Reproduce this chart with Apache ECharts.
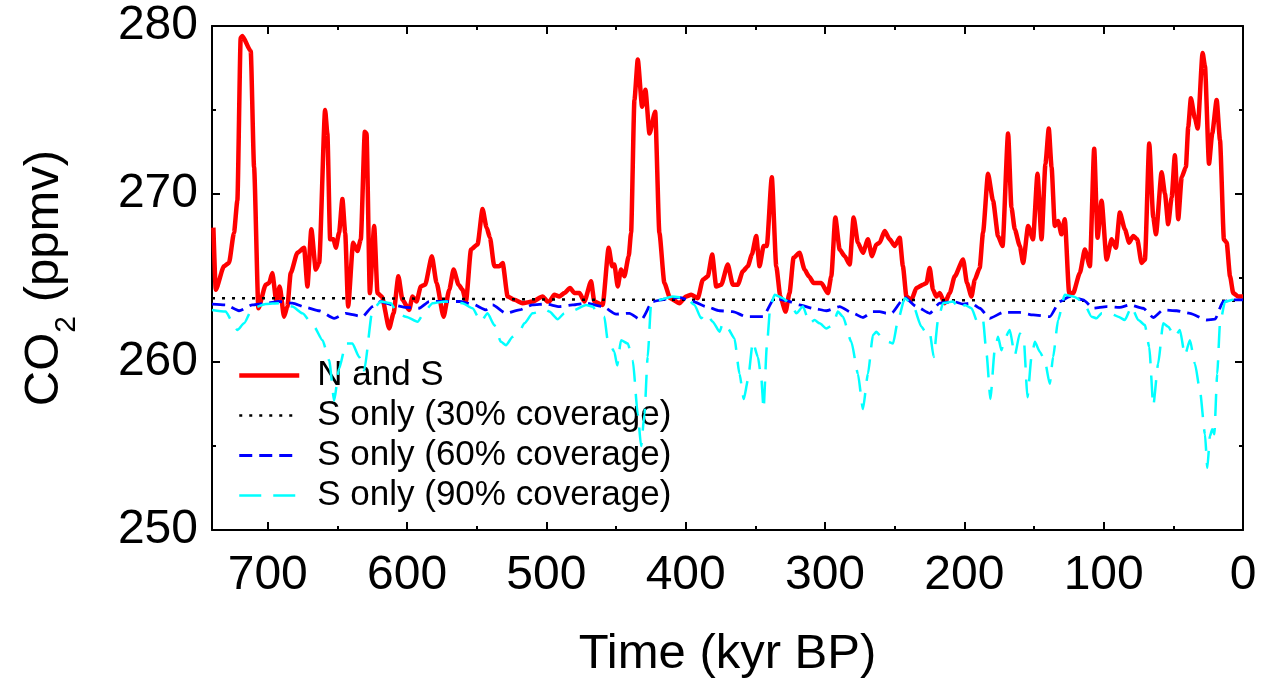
<!DOCTYPE html>
<html>
<head>
<meta charset="utf-8">
<script src="https://cdn.jsdelivr.net/npm/echarts@6/dist/echarts.min.js"></script>
<style>
html,body{margin:0;padding:0;background:#fff;}
#chart{width:1281px;height:682px;}
</style>
</head>
<body>
<div id="chart"></div>
<script>
// ---- data (time in kyr BP, CO2 in ppmv) ----
var seriesNames = ['N and S', 'S only (30% coverage)', 'S only (60% coverage)', 'S only (90% coverage)'];
var xMajorTicks = [0, 100, 200, 300, 400, 500, 600, 700];
var yMajorTicks = [250, 260, 270, 280];

var nsData = [
[739,268.0],[737.3,264.3],[731.4,265.7],[727.8,265.9],[724.2,267.7],[721.8,269.6],[719.4,279.3],[718.2,279.4],
[712.2,278.5],[709.8,271.6],[706.7,263.2],[701.4,264.6],[699.0,264.7],[696.7,265.3],[693.8,263.6],[691.4,264.5],
[688.3,262.7],[685.9,263.3],[683.5,265.3],[678.7,266.5],[673.9,266.8],[671.5,264.5],[668.7,267.9],[665.5,265.5],
[663.1,265.9],[658.8,275.0],[657.2,273.6],[655.2,267.3],[652.8,267.3],[651.1,266.8],[648.8,267.7],[646.4,269.7],
[644.4,267.7],[642.3,263.3],[638.7,267.1],[635.6,266.6],[633.2,267.3],[630.3,273.7],[629.1,273.6],[626.7,264.1],
[623.6,268.1],[621.2,264.1],[618.1,263.9],[612.8,262.0],[609.7,262.9],[606.2,265.1],[603.3,263.7],[598.5,263.1],
[596.1,263.9],[593.2,263.6],[590.1,264.5],[587.0,264.6],[582.2,266.3],[578.8,264.7],[573.8,262.7],[569.7,264.3],
[566.6,265.5],[563.0,264.6],[560.2,264.3],[557.7,263.6],[554.1,266.7],[549.4,267.0],[545.8,269.1],[542.9,268.0],
[540.5,267.4],[537.4,265.7],[533.8,265.7],[531.4,265.9],[527.8,263.9],[523.0,263.7],[517.1,263.5],[509.9,263.6],
[502.7,263.9],[499.1,263.6],[497.9,263.6],[494.3,264.0],[490.7,263.9],[487.1,264.1],[483.0,264.4],[479.9,264.1],
[476.3,264.1],[472.7,263.6],[467.9,264.8],[465.6,263.6],[459.6,263.4],[455.3,266.8],[452.8,265.7],[451.2,265.8],
[448.8,264.5],[446.4,265.5],[444.0,265.1],[440.9,266.3],[439.2,267.7],[436.8,275.6],[434.4,278.0],[431.3,275.2],
[428.9,276.2],[426.0,273.6],[421.9,274.9],[418.9,267.7],[415.3,264.7],[411.2,263.8],[404.5,263.5],[399.7,263.9],
[396.1,264.0],[391.3,263.8],[387.7,264.9],[384.1,265.1],[381.0,266.4],[378.1,264.5],[374.5,264.6],[369.8,265.8],
[366.2,264.6],[362.6,264.6],[359.0,265.4],[355.4,265.7],[352.5,266.4],[349.4,267.5],[347.0,265.7],[344.1,266.9],
[341.8,266.9],[338.2,271.0],[335.0,265.7],[332.1,263.9],[328.3,263.0],[325.5,264.1],[322.6,266.2],[318.3,266.5],
[314.7,265.5],[311.6,265.1],[308.2,264.7],[302.7,264.7],[297.9,264.1],[295.5,265.1],[292.6,268.6],[289.5,266.7],
[285.9,266.3],[282.3,265.8],[279.5,268.6],[276.4,267.1],[272.8,266.5],[269.2,267.3],[266.3,266.3],[263.2,267.0],
[260.8,267.1],[257.2,267.8],[253.6,267.3],[250.0,266.9],[246.4,267.4],[244.1,265.7],[241.6,263.9],[238.0,263.7],
[234.4,264.4],[229.7,264.6],[227.2,264.7],[224.9,265.6],[222.5,264.3],[220.1,263.9],[217.7,264.1],[214.1,263.5],
[210.5,264.1],[206.9,265.1],[200.9,266.1],[198.1,264.7],[194.9,263.9],[192.5,264.9],[189.0,265.6],[186.6,267.7],
[183.0,271.2],[179.4,269.6],[175.8,267.5],[172.6,266.9],[168.6,273.6],[166.2,269.2],[163.8,267.9],[160.2,266.9],
[157.8,265.9],[154.2,268.1],[150.7,267.3],[147.5,271.2],[144.6,267.3],[141.8,271.8],[139.4,273.9],[137.4,271.6],
[135.1,268.1],[132.7,268.4],[130.3,267.6],[127.9,268.5],[124.8,264.1],[121.9,264.1],[117.1,265.3],[113.5,266.7],
[109.9,265.7],[106.8,272.7],[104.4,267.4],[101.5,269.6],[97.9,266.1],[94.3,267.3],[91.2,266.8],[88.4,268.9],
[84.8,267.9],[81.7,267.1],[78.8,267.5],[75.9,267.3],[72.8,265.9],[70.4,266.1],[67.3,273.0],[64.4,268.6],
[62.5,267.6],[58.4,271.3],[56.0,270.0],[53.7,268.2],[51.2,269.8],[48.9,272.3],[46.5,268.5],[44.0,271.0],
[41.0,271.6],[39.3,274.0],[37.4,275.7],[34.5,274.5],[32.5,273.9],[29.0,278.4],[27.3,277.6],[24.4,271.8],
[22.1,273.6],[18.9,275.6],[16.5,273.2],[13.7,267.3],[11.7,267.1],[9.3,265.1],[7.0,264.1],[3.4,263.9],
[0.9,263.9],[0,263.9]
];

var s30Data = [
[740,263.8],[650,263.8],[550,263.75],[450,263.7],[350,263.7],[250,263.7],[150,263.65],[50,263.65],[0,263.65]
];

var s60Data = [
[740,263.45],[730.2,263.4],[720.6,263.05],[711.0,263.4],[701.4,263.5],[691.9,263.6],[682.3,263.5],[672.7,263.25],
[663.1,263.05],[652.3,262.6],[643.9,262.9],[632.0,262.7],[624.8,263.3],[618.8,263.6],[610.5,263.4],[600.8,263.25],
[591.3,263.2],[584.1,263.6],[574.5,263.6],[562.5,263.6],[553.0,263.45],[543.4,263.1],[538.6,263.4],[529.0,262.9],
[519.4,263.1],[509.9,263.4],[500.3,263.45],[490.7,263.3],[481.1,263.4],[471.5,263.5],[459.6,263.3],[450.0,262.85],
[440.4,262.9],[432.0,262.5],[423.7,263.6],[414.0,263.75],[404.5,263.85],[394.9,263.6],[385.3,263.3],[375.7,263.05],
[366.2,263.0],[356.6,262.7],[344.6,262.7],[336.2,263.8],[327.8,263.65],[318.3,263.4],[308.7,263.2],[299.1,263.05],
[289.5,263.3],[280.0,262.9],[272.8,262.65],[265.6,263.0],[260.8,263.0],[256.0,262.9],[252.4,262.9],[242.8,263.85],
[234.4,263.3],[224.9,262.9],[217.7,263.5],[208.1,263.6],[200.9,263.45],[194.9,263.5],[189.0,263.2],[181.8,262.6],
[172.2,262.95],[160.2,262.95],[150.7,262.8],[138.7,262.7],[131.5,263.6],[124.3,263.9],[114.7,263.7],[107.5,263.2],
[97.9,263.3],[88.4,263.25],[81.2,263.4],[71.6,263.2],[64.4,262.65],[57.3,263.1],[47.6,263.05],[38.1,262.9],
[26.1,262.5],[20.1,262.55],[14.2,263.6],[7.0,263.7],[2.2,263.7],[0,263.7]
];

var s90Data = [
[740,263.1],[730.2,263.0],[725.4,262.4],[721.8,261.9],[717.0,262.3],[711.0,263.2],[701.4,263.45],[691.9,263.5],
[682.3,263.3],[675.1,262.9],[666.7,262.1],[660.7,261.3],[655.9,260.1],[652.3,257.7],[648.8,259.6],[643.9,261.1],
[639.2,261.1],[634.4,260.3],[630.8,259.5],[624.8,263.1],[618.8,263.6],[611.6,263.5],[606.9,262.9],[600.8,262.7],
[592.5,262.4],[586.5,263.1],[581.7,263.5],[572.1,263.6],[560.2,263.5],[553.0,263.2],[547.0,262.4],[542.2,262.9],
[537.4,262.2],[532.6,261.2],[529.0,261.0],[524.2,261.5],[519.4,261.8],[515.8,262.3],[509.9,262.9],[500.3,263.1],
[497.9,263.0],[491.9,262.55],[487.1,262.9],[481.1,263.05],[471.5,263.4],[466.8,263.3],[463.2,262.9],[458.4,262.7],
[456.0,261.3],[453.5,260.9],[451.2,260.6],[449.2,259.8],[446.4,261.3],[441.6,261.1],[438.0,260.1],[434.4,256.9],
[432.0,255.0],[429.6,256.9],[427.3,260.3],[424.8,263.5],[418.9,263.7],[409.3,263.9],[399.7,263.8],[393.7,263.4],
[388.9,262.6],[385.3,262.9],[380.6,262.4],[375.7,261.8],[373.4,262.3],[369.8,262.0],[365.0,261.4],[361.4,259.3],
[358.3,257.8],[355.4,258.9],[351.8,261.2],[348.2,260.3],[345.8,259.1],[344.1,257.2],[341.8,260.9],[339.3,263.3],
[336.2,264.0],[330.3,263.8],[324.2,263.4],[320.6,262.9],[315.9,263.3],[311.1,262.3],[307.5,262.5],[303.9,262.3],
[299.1,262.0],[294.3,262.2],[290.8,263.0],[287.2,262.7],[281.1,261.2],[276.4,259.3],[272.8,257.2],[269.2,259.3],
[265.6,261.6],[263.2,261.8],[259.6,261.5],[254.8,261.2],[251.2,261.1],[247.6,262.5],[242.8,263.8],[236.9,263.4],
[230.8,262.1],[227.2,261.7],[224.9,261.8],[222.0,260.3],[218.9,262.5],[215.3,263.5],[208.1,263.6],[203.3,263.1],
[199.7,263.4],[194.9,263.2],[190.2,262.3],[186.6,262.5],[184.1,260.5],[181.3,257.8],[178.2,260.7],[175.8,261.5],
[173.4,260.7],[171.0,261.4],[167.4,261.9],[163.8,260.4],[160.2,261.7],[157.3,261.3],[154.7,257.9],[151.8,260.3],
[149.4,261.2],[145.8,260.6],[142.3,260.1],[138.7,258.7],[136.3,260.3],[132.7,262.5],[127.9,264.0],[121.9,263.9],
[114.7,263.6],[108.7,262.7],[105.1,262.6],[101.5,262.9],[95.6,262.9],[89.6,262.7],[84.8,262.5],[80.0,263.3],
[75.2,262.5],[70.4,262.2],[67.3,260.9],[64.4,257.4],[60.9,259.9],[57.3,262.3],[53.7,262.1],[48.9,261.5],
[45.3,261.9],[41.7,260.4],[38.1,261.3],[34.5,259.9],[30.9,258.3],[27.3,255.7],[25.6,253.7],[23.7,255.6],
[22.1,256.0],[20.6,255.7],[18.5,259.3],[16.5,262.3],[12.9,263.6],[7.0,263.7],[0.9,263.7],[0,263.7]
];

// ---- styles ----
var FONT = 'Liberation Sans, Arial, Helvetica, sans-serif';
var lineStyles = [
  {color: '#ff0000', width: 4.5, type: 'solid'},
  {color: '#000000', width: 2.5, type: [3, 7]},
  {color: '#0000ff', width: 2.8, type: [13, 7]},
  {color: '#00ffff', width: 2.5, type: [22, 12]}
];

var chart = echarts.init(document.getElementById('chart'), null, {renderer: 'canvas'});

function axisBase(extra) {
  var base = {
    type: 'value',
    gridIndex: 0,
    splitLine: {show: false},
    axisLine: {show: false, onZero: false},
    axisLabel: {show: false}
  };
  for (var k in extra) base[k] = extra[k];
  return base;
}

function xAxisDef(pos, interval, tickLen, withLabels) {
  var a = axisBase({position: pos, min: 0, max: 740, inverse: true, interval: interval});
  a.axisTick = {show: true, inside: true, length: tickLen, lineStyle: {color: '#000', width: 2}};
  if (withLabels) {
    a.axisLine = {show: true, onZero: false, lineStyle: {color: '#000', width: 2}};
    a.axisLabel = {
      show: true, color: '#000', fontSize: 48, fontFamily: FONT, margin: 22,
      showMaxLabel: false,
      formatter: function (v) { return xMajorTicks.indexOf(v) >= 0 ? String(v) : ''; }
    };
  }
  return a;
}
function yAxisDef(pos, interval, tickLen, withLine, withLabels) {
  var a = axisBase({position: pos, min: 250, max: 280, interval: interval});
  a.axisTick = {show: true, inside: true, length: tickLen, lineStyle: {color: '#000', width: 2}};
  if (withLine) {
    a.axisLine = {show: true, onZero: false, lineStyle: {color: '#000', width: 2}};
  }
  if (withLabels) {
    a.axisLabel = {
      show: true, color: '#000', fontSize: 48, fontFamily: FONT, margin: 14,
      formatter: function (v) { return yMajorTicks.indexOf(v) >= 0 ? String(v) : ''; }
    };
  }
  return a;
}

var xAxes = [
  xAxisDef('bottom', 100, 8, true),
  xAxisDef('bottom', 50, 4, false),
  xAxisDef('top', 100, 8, false),
  xAxisDef('top', 50, 4, false)
];
xAxes[0].name = 'Time (kyr BP)';
xAxes[0].nameLocation = 'middle';
xAxes[0].nameGap = 100;
xAxes[0].nameTextStyle = {color: '#000', fontSize: 49, fontFamily: FONT};
xAxes[2].axisLine = {show: true, onZero: false, lineStyle: {color: '#000', width: 2}};

var yAxes = [
  yAxisDef('left', 10, 8, true, true),
  yAxisDef('left', 5, 4, false, false),
  yAxisDef('right', 10, 8, true, false),
  yAxisDef('right', 5, 4, false, false)
];
yAxes[0].name = 'CO{sub|2} (ppmv)';
yAxes[0].nameLocation = 'middle';
yAxes[0].nameGap = 130;
yAxes[0].nameTextStyle = {
  color: '#000', fontSize: 49, fontFamily: FONT,
  rich: {sub: {fontSize: 30, fontFamily: FONT, color: '#000', padding: [46, 0, 0, 0]}}
};

var legendData = seriesNames.map(function (n, i) {
  return {name: n, lineStyle: lineStyles[i], itemStyle: {opacity: 0, color: 'rgba(0,0,0,0)', borderWidth: 0}};
});

var option = {
  animation: false,
  backgroundColor: '#fff',
  textStyle: {fontFamily: FONT},
  grid: {left: 212, right: 38, top: 26, bottom: 152, containLabel: false, outerBoundsMode: 'none'},
  legend: {
    show: true,
    orient: 'vertical',
    left: 232,
    top: 353,
    itemWidth: 60,
    itemHeight: 14,
    itemGap: 5,
    itemStyle: {opacity: 0},
    textStyle: {color: '#000', fontSize: 35, fontFamily: FONT, lineHeight: 34, padding: [0, 0, 0, 13]},
    data: legendData
  },
  xAxis: xAxes,
  yAxis: yAxes,
  series: [
    {name: seriesNames[0], type: 'line', data: nsData, symbol: 'none', showSymbol: false,
     smooth: 0.2, smoothMonotone: 'x', lineStyle: lineStyles[0], itemStyle: {color: '#ff0000'}, z: 2},
    {name: seriesNames[1], type: 'line', data: s30Data, symbol: 'none', showSymbol: false,
     lineStyle: lineStyles[1], itemStyle: {color: '#000000'}, z: 3},
    {name: seriesNames[2], type: 'line', data: s60Data, symbol: 'none', showSymbol: false,
     smooth: 0.2, smoothMonotone: 'x', lineStyle: lineStyles[2], itemStyle: {color: '#0000ff'}, z: 4},
    {name: seriesNames[3], type: 'line', data: s90Data, symbol: 'none', showSymbol: false,
     smooth: 0.2, smoothMonotone: 'x', lineStyle: lineStyles[3], itemStyle: {color: '#00ffff'}, z: 5}
  ]
};
chart.setOption(option);
</script>
</body>
</html>
